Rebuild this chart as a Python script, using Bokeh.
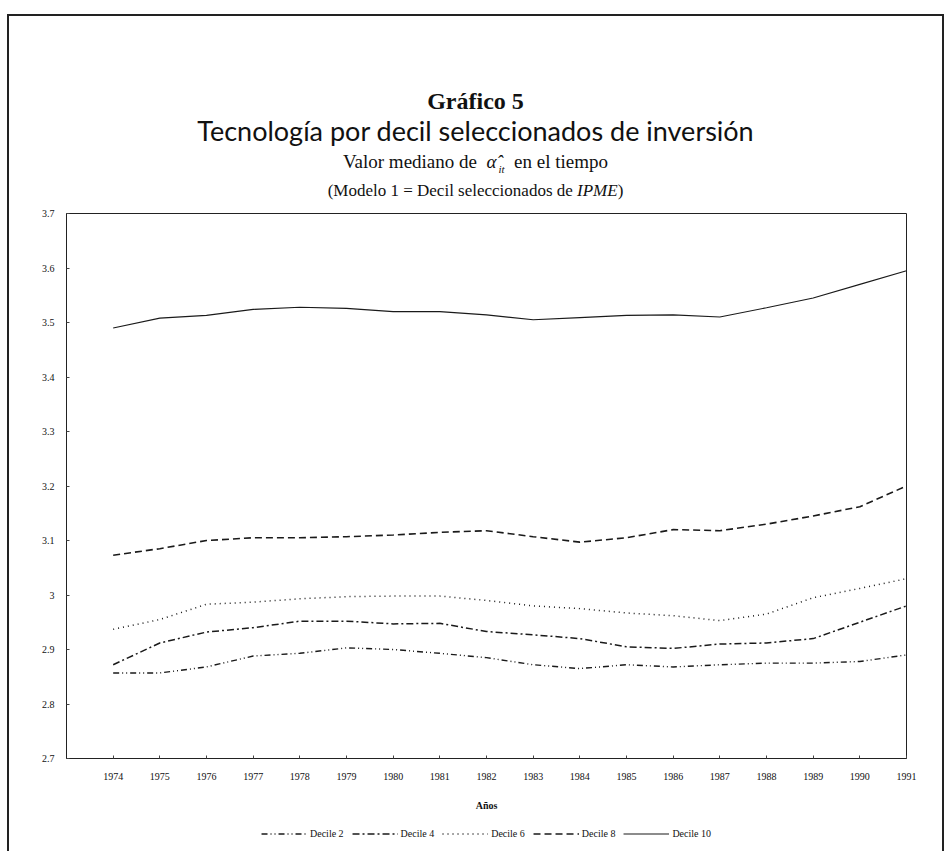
from bokeh.plotting import figure
from bokeh.models import Range1d, FixedTicker, Legend, LegendItem, Div
from bokeh.layouts import column
from bokeh.embed import file_html
from bokeh.resources import INLINE

# ---------------- data ----------------
years = list(range(1974, 1992))
decile_2 = [2.857, 2.857, 2.868, 2.888, 2.893, 2.903, 2.900, 2.893, 2.885, 2.872,
            2.865, 2.872, 2.868, 2.872, 2.875, 2.875, 2.878, 2.890]
decile_4 = [2.872, 2.912, 2.932, 2.940, 2.952, 2.952, 2.947, 2.948, 2.933, 2.927,
            2.920, 2.905, 2.902, 2.910, 2.912, 2.920, 2.950, 2.980]
decile_6 = [2.937, 2.955, 2.983, 2.987, 2.993, 2.997, 2.998, 2.998, 2.990, 2.980,
            2.975, 2.967, 2.962, 2.953, 2.965, 2.995, 3.012, 3.030]
decile_8 = [3.073, 3.085, 3.100, 3.105, 3.105, 3.107, 3.110, 3.115, 3.118, 3.107,
            3.097, 3.105, 3.120, 3.118, 3.130, 3.145, 3.162, 3.200]
decile_10 = [3.490, 3.508, 3.513, 3.524, 3.528, 3.526, 3.520, 3.520, 3.514, 3.505,
             3.509, 3.513, 3.514, 3.510, 3.527, 3.545, 3.570, 3.595]
series_names = ["Decile 2", "Decile 4", "Decile 6", "Decile 8", "Decile 10"]
y_ticks = [2.7, 2.8, 2.9, 3.0, 3.1, 3.2, 3.3, 3.4, 3.5, 3.6, 3.7]
y_tick_labels = ["2.7", "2.8", "2.9", "3", "3.1", "3.2", "3.3", "3.4", "3.5", "3.6", "3.7"]
x_min, x_max = 1973, 1991

title_1 = "Gráfico 5"
title_2 = "Tecnología por decil seleccionados de inversión"
subtitle_a = "Valor mediano de"
subtitle_b = "en el tiempo"
note_a = "(Modelo 1 = Decil seleccionados de"
note_b = "IPME"
x_label = "Años"

SERIF = "Liberation Serif"
CW = 933  # content width
HEADER_H = 185
MAIN_H = 614
LEG_H = 36

# ---------------- header (titles) ----------------
def line_div(top, lh, font, inner):
    return (f'<div style="position:absolute;left:0;width:{CW}px;top:{top}px;'
            f'line-height:{lh}px;text-align:center;font:{font};white-space:nowrap;">'
            f'{inner}</div>')

alpha_html = ('&nbsp;<i>α\u0302</i>'
              '<i style="font-size:11px;position:relative;top:5px;margin-left:2px;">it</i>'
              '&nbsp;&nbsp;')

header_html = (
    f'<div style="position:relative;width:{CW}px;height:{HEADER_H}px;color:#111;">'
    + line_div(72, 24, f"bold 24px '{SERIF}'", title_1)
    + line_div(98, 26, "27px 'Lato'", title_2)
    + line_div(135, 24, f"19px '{SERIF}'", f"{subtitle_a} {alpha_html}{subtitle_b}")
    + line_div(165, 20, f"17px '{SERIF}'", f"{note_a} <i>{note_b}</i>)")
    + '</div>'
)
header = Div(text=header_html, width=CW, height=HEADER_H, margin=0)

# ---------------- main figure ----------------
p = figure(width=CW, height=MAIN_H, output_backend="svg", toolbar_location=None,
           x_range=Range1d(x_min, x_max), y_range=Range1d(y_ticks[0], y_ticks[-1]),
           min_border_left=57, min_border_right=36, min_border_top=12,
           min_border_bottom=57)
p.background_fill_color = "white"
p.border_fill_color = "white"
p.outline_line_color = "#222"
p.outline_line_width = 1
p.grid.visible = False

p.xaxis.ticker = FixedTicker(ticks=years)
p.xaxis.major_label_overrides = {y: str(y) for y in years}
p.yaxis.ticker = FixedTicker(ticks=y_ticks)
p.yaxis.major_label_overrides = dict(zip(y_ticks, y_tick_labels))
for ax in (p.xaxis, p.yaxis):
    ax.axis_line_color = "#222"
    ax.major_tick_line_color = "#444"
    ax.major_tick_in = 3
    ax.major_tick_out = 0
    ax.minor_tick_line_color = None
    ax.major_label_text_font = SERIF
    ax.major_label_text_font_size = "10px"
    ax.major_label_text_color = "#111"
p.yaxis.major_label_standoff = 12
p.xaxis.major_label_standoff = 14
p.xaxis.axis_label = x_label
p.xaxis.axis_label_text_font = SERIF
p.xaxis.axis_label_text_font_style = "bold"
p.xaxis.axis_label_text_font_size = "10px"
p.xaxis.axis_label_text_color = "#111"
p.xaxis.axis_label_standoff = 17

styles = [
    (decile_2, "6 3 1 3 1 3", 1.4),
    (decile_4, "7 3 2 3", 1.5),
    (decile_6, "1 4", 1.5),
    (decile_8, "7 4", 1.6),
    (decile_10, "solid", 1.1),
]
for vals, dash, lw in styles:
    p.line(years, vals, line_color="#1a1a1a", line_width=lw, line_dash=dash)

# ---------------- legend strip ----------------
# the same series are drawn here, outside this strip's visible range,
# only so that the legend can show their line styles
lg = figure(width=CW, height=LEG_H, output_backend="svg", toolbar_location=None,
            x_axis_type=None, y_axis_type=None, x_range=Range1d(0, 1),
            y_range=Range1d(0, 1), min_border=0)
lg.outline_line_color = None
lg.grid.visible = False
lg.background_fill_color = "white"
lg.border_fill_color = "white"
items = []
for name, (vals, dash, lw) in zip(series_names, styles):
    r = lg.line(years, vals, line_color="#1a1a1a", line_width=lw, line_dash=dash)
    items.append(LegendItem(label=name, renderers=[r]))
legend = Legend(items=items, orientation="horizontal", location="center",
                label_text_font=SERIF, label_text_font_size="10px",
                label_text_color="#111", glyph_width=46, glyph_height=10,
                label_height=10, label_standoff=3, spacing=8, padding=3,
                border_line_color=None, background_fill_alpha=0, margin=0)
lg.add_layout(legend, "center")

page = column(header, p, lg, spacing=0)
page.styles = {"border-top": "2px solid #222", "border-left": "2px solid #222",
               "border-right": "2px solid #222", "margin-top": "14px",
               "margin-left": "7px"}

open("out.html", "w").write(file_html(page, INLINE))
